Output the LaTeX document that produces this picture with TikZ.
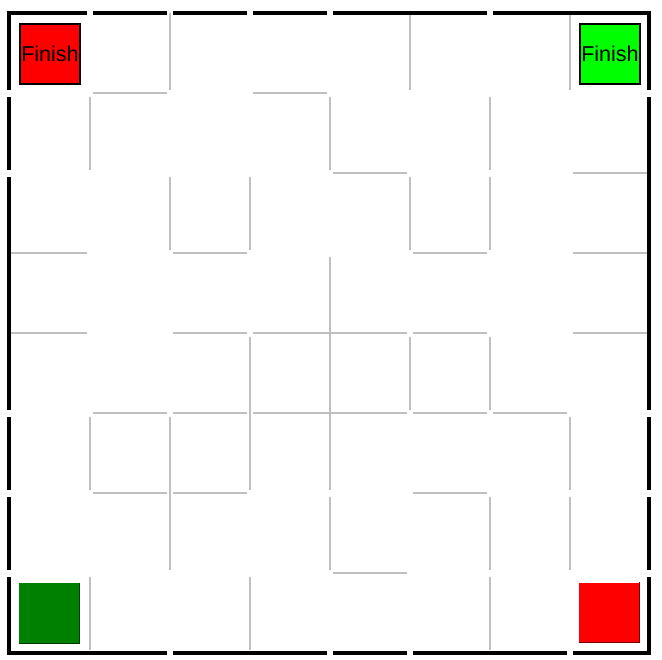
\documentclass[tikz,border=0pt]{standalone}
\usepackage{fontspec}
\setmainfont{Liberation Sans}
\definecolor{wallgray}{HTML}{C0C0C0}
\definecolor{lime}{HTML}{00FF00}
\definecolor{dkgreen}{HTML}{008000}
\definecolor{redshade}{HTML}{7A0000}
\definecolor{greenshade}{HTML}{003A00}
\tikzset{
  inner/.style={draw=wallgray, line width=1.6pt},
  outer/.style={draw=black, line width=4pt},
  goalbox/.style={draw=black, line width=1.5pt, minimum width=60pt, minimum height=60pt, inner sep=0pt, font=\fontsize{21.5}{22}\selectfont, text=black},
  startbox/.style={minimum width=60pt, minimum height=60pt, inner sep=0pt}
}
\begin{document}
\begin{tikzpicture}[x=1pt, y=-1pt]
\useasboundingbox[fill=white] (0,0) rectangle (662,660);
% inner vertical walls (x, y1, y2)
\foreach \x/\a/\b in {170/13/90, 410/13/90, 570/13/90,
  90/97/170, 330/97/170, 490/97/170,
  170/177/250, 250/177/250, 410/177/250, 490/177/250,
  330/257/490,
  250/337/490, 410/337/410, 490/337/410,
  90/417/490, 170/417/570, 570/417/490,
  330/497/570, 490/497/570, 570/497/570,
  90/577/650, 250/577/650, 490/577/650}
  \draw[inner] (\x,\a) -- (\x,\b);
% inner horizontal walls (y, x1, x2)
\foreach \y/\a/\b in {93/93/167, 93/253/327,
  173/333/407, 173/573/647,
  253/9/87, 253/173/247, 253/413/487, 253/573/647,
  333/9/87, 333/173/247, 333/253/407, 333/413/487, 333/573/647,
  413/93/167, 413/173/247, 413/253/407, 413/413/487, 413/493/567,
  493/93/167, 493/173/247, 493/413/487,
  573/333/407}
  \draw[inner] (\a,\y) -- (\b,\y);
% outer border
\foreach \a/\b in {7/87, 93/167, 173/247, 253/327, 333/487, 493/651}
  \draw[outer] (\a,13) -- (\b,13);
\foreach \a/\b in {7/167, 173/327, 333/407, 413/567, 573/651}
  \draw[outer] (\a,653) -- (\b,653);
\foreach \a/\b in {11/90, 97/170, 177/410, 417/490, 497/570, 577/655}
  \draw[outer] (9,\a) -- (9,\b);
\foreach \a/\b in {11/90, 97/410, 417/490, 497/570, 577/655}
  \draw[outer] (649,\a) -- (649,\b);
% goals
\node[goalbox, fill=red] (finA) at (50,53.8) {Finish};
\node[goalbox, fill=lime] (finB) at (610,53.8) {Finish};
% starts
\node[startbox, fill=dkgreen] (startA) at (49,613) {};
\draw[greenshade, line width=1.4pt] (startA.north east) -- (startA.south east) -- (startA.south west);
\node[startbox, fill=red] (startB) at (609,612.5) {};
\draw[redshade, line width=1.4pt] (startB.north east) -- (startB.south east) -- (startB.south west);
\end{tikzpicture}
\end{document}
